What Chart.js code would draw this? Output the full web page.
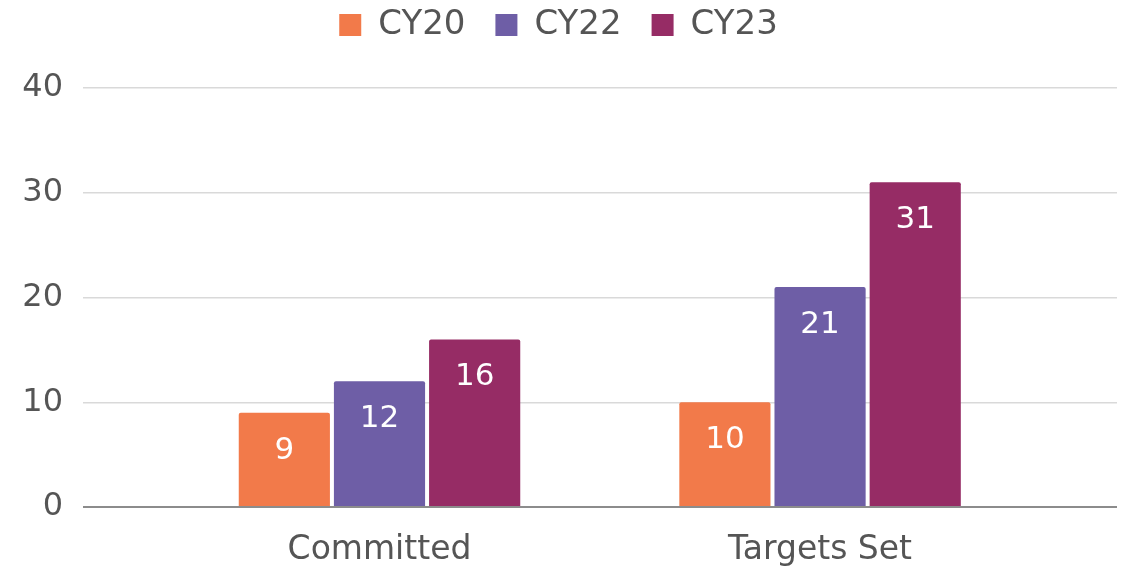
<!DOCTYPE html>
<html>
<head>
<meta charset="utf-8">
<script src="https://cdn.jsdelivr.net/npm/chart.js@4.4.1/dist/chart.umd.min.js"></script>
<style>
  html, body { margin: 0; padding: 0; background: #fff; }
  #wrap { width: 1130px; height: 567px; }
</style>
</head>
<body>
<div id="wrap"><canvas id="barChart"></canvas></div>
<script>
// Chart data
const categories = ['Committed', 'Targets Set'];
const seriesNames = ['CY20', 'CY22', 'CY23'];
const cy20 = [9, 10];
const cy22 = [12, 21];
const cy23 = [16, 31];
const yTicks = [0, 10, 20, 30, 40];

const colors = ['#f27a4a', '#6e5ea6', '#962c65'];
const textGray = '#555555';
const fontFamily = '"DejaVu Sans", Verdana, sans-serif';

// bars sit on a linear x axis so the two groups can sit closer to the middle
const toPoints = vals => vals.map((v, i) => ({ x: i, y: v }));

// Value labels inside the top of each bar
const barLabels = {
    id: 'barLabels',
    afterDatasetsDraw(chart) {
        const c = chart.ctx;
        c.save();
        c.fillStyle = '#ffffff';
        c.font = '31px ' + fontFamily;
        c.textAlign = 'center';
        c.textBaseline = 'middle';
        chart.data.datasets.forEach((ds, di) => {
            chart.getDatasetMeta(di).data.forEach((bar, i) => {
                c.fillText(String(ds.data[i].y), bar.x, bar.y + 38);
            });
        });
        c.restore();
    }
};

// extra room under the legend
const legendGap = {
    id: 'legendGap',
    beforeInit(chart) {
        const fit = chart.legend.fit;
        chart.legend.fit = function () {
            fit.bind(chart.legend)();
            this.height += 36;
        };
    }
};

const ctx = document.getElementById('barChart').getContext('2d');
new Chart(ctx, {
    type: 'bar',
    data: {
        datasets: [
            { label: seriesNames[0], data: toPoints(cy20), backgroundColor: colors[0] },
            { label: seriesNames[1], data: toPoints(cy22), backgroundColor: colors[1] },
            { label: seriesNames[2], data: toPoints(cy23), backgroundColor: colors[2] }
        ]
    },
    options: {
        responsive: true,
        maintainAspectRatio: false,
        animation: false,
        layout: { padding: { top: -22, right: 13, bottom: 0, left: 0 } },
        datasets: {
            bar: {
                categoryPercentage: 0.648,
                barPercentage: 0.958,
                borderRadius: 2,
                borderSkipped: 'bottom'
            }
        },
        scales: {
            x: {
                type: 'linear',
                offset: false,
                min: -0.673,
                max: 1.674,
                grid: { display: false, drawTicks: false },
                border: { display: false },
                afterFit: scale => { scale.height = 60; },
                afterBuildTicks: scale => {
                    scale.ticks = categories.map((_, i) => ({ value: i }));
                },
                ticks: {
                    padding: 24,
                    color: textGray,
                    font: { family: fontFamily, size: 33 },
                    callback: value => categories[value] ?? ''
                }
            },
            y: {
                min: yTicks[0],
                max: yTicks[yTicks.length - 1],
                afterFit: scale => { scale.width = 83; },
                afterBuildTicks: scale => {
                    scale.ticks = yTicks.map(v => ({ value: v }));
                },
                border: { display: false },
                grid: {
                    drawTicks: false,
                    color: c => c.tick && c.tick.value === 0 ? '#8c8c8c' : '#d9d9d9',
                    lineWidth: c => c.tick && c.tick.value === 0 ? 2 : 1.5
                },
                ticks: {
                    padding: 20,
                    color: textGray,
                    font: { family: fontFamily, size: 32 }
                }
            }
        },
        plugins: {
            legend: {
                position: 'top',
                labels: {
                    boxWidth: 22,
                    boxHeight: 22,
                    padding: 30,
                    color: textGray,
                    font: { family: fontFamily, size: 34 }
                }
            },
            tooltip: { enabled: false }
        }
    },
    plugins: [barLabels, legendGap]
});
</script>
</body>
</html>
